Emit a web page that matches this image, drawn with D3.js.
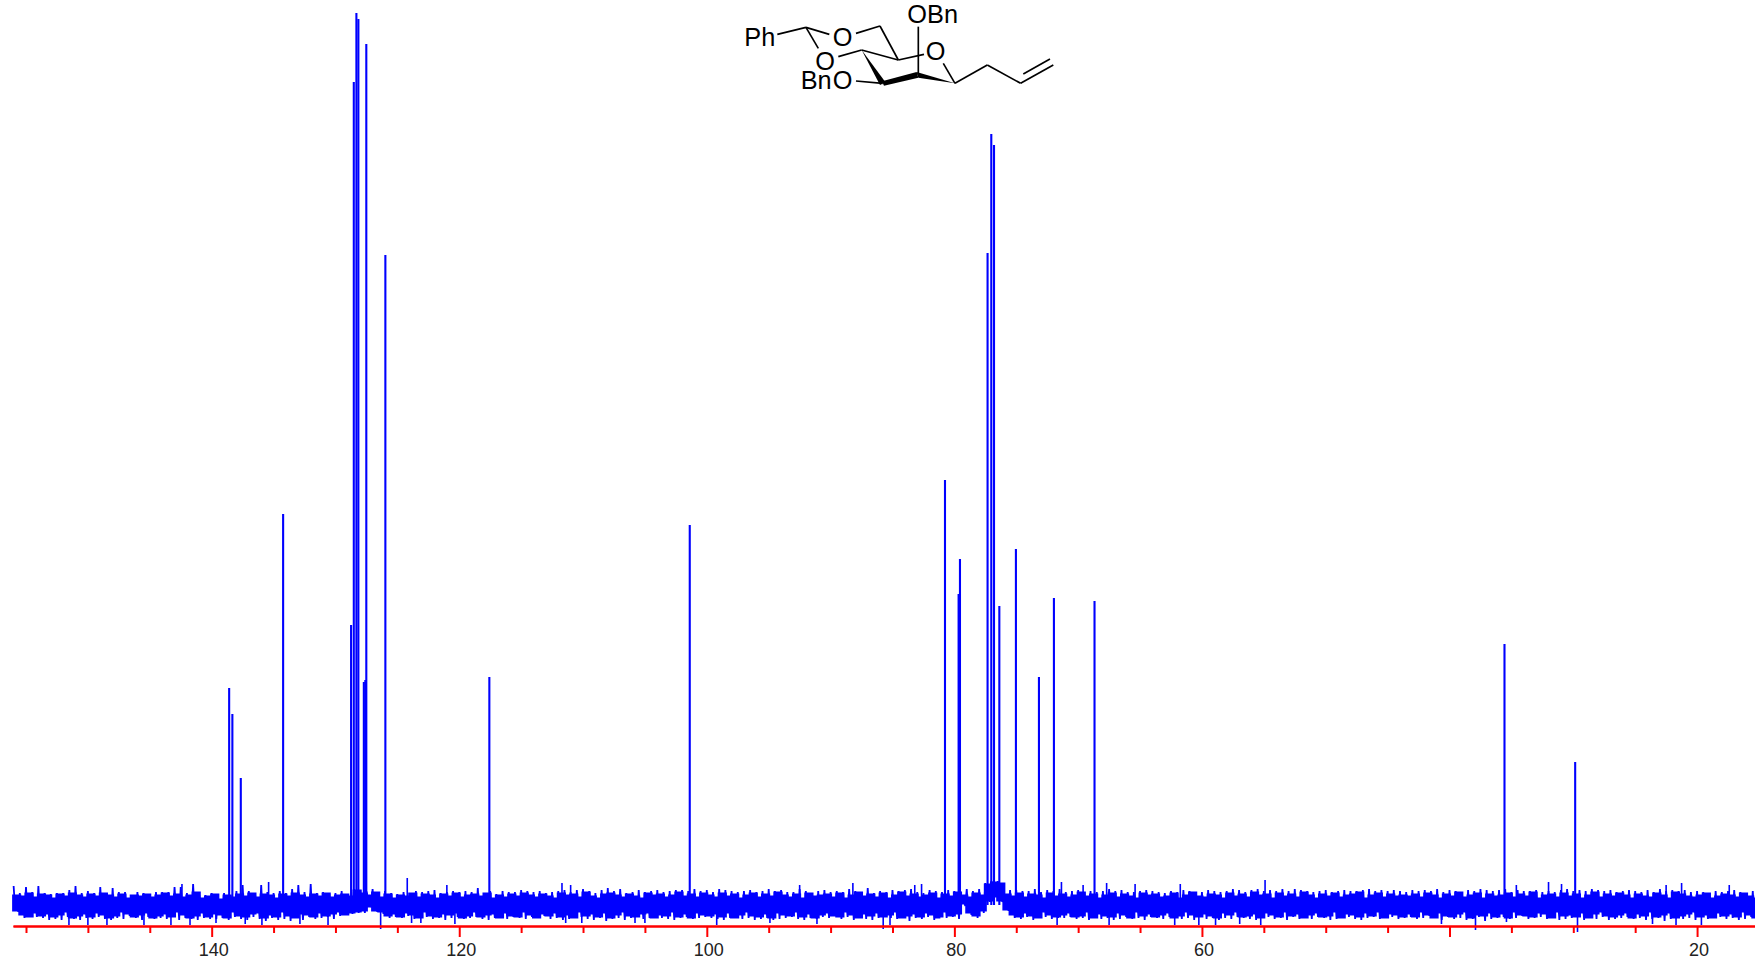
<!DOCTYPE html>
<html>
<head>
<meta charset="utf-8">
<script src="https://cdn.jsdelivr.net/npm/d3@7"></script>
<style>
body { margin: 0; background: white; }
svg { display: block; }
text { font-family: "Liberation Sans", Arial, sans-serif; }
</style>
</head>
<body>
<div id="chart"></div>
<script>
const width = 1755, height = 961;

// 13C peaks: shift in ppm, height above the baseline
const peakPpm = [138.62, 138.36, 137.68, 134.26, 128.77, 128.55, 128.34, 128.18, 127.74, 127.62, 127.54, 126.0, 117.6, 101.41, 80.79, 79.69, 79.58, 77.35, 77.05, 76.83, 76.4, 75.06, 73.2, 71.99, 68.71, 35.59, 29.88];
const peakHeight = [217, 191, 127, 391, 280, 823, 892, 886, 223, 225, 861, 650, 228, 380, 425, 311, 346, 652, 771, 760, 299, 356, 228, 307, 304, 261, 143];

// noise band, one reading every 0.5 ppm from 156 ppm down
const noiseStartPpm = 156, noiseStepPpm = 0.5;
const noiseHigh = [
    19,12,18,13,19,12,11,12,12,15,19,12,14,12,18,12,17,13,13,10,13,12,10,13,13,13,18,18,12,21,10,10,12,8,12,10,14,20,14,12,20,13,12,14,12,16,20,13,21,12,13,11,12,14,11,16,
    15,14,16,13,14,12,11,13,12,14,13,14,15,12,13,14,13,14,13,17,12,14,11,14,13,13,15,14,13,14,12,13,14,15,13,15,16,14,12,15,17,14,16,12,13,15,13,14,15,13,14,15,15,14,16,14,
    15,13,16,15,14,13,14,15,13,14,16,14,15,13,13,16,14,12,14,15,13,14,13,16,14,13,17,12,14,13,15,14,15,16,13,12,15,14,13,15,14,13,16,14,16,22,24,24,14,15,15,14,14,16,13,15,14,
    16,13,14,15,13,14,13,14,16,14,15,13,13,14,15,14,13,12,14,13,15,14,13,13,15,14,13,14,16,15,13,15,16,14,15,14,16,14,16,15,14,13,14,15,13,14,15,14,14,15,16,14,15,14,15,14,
    13,15,14,15,14,16,13,15,14,13,15,14,16,15,14,15,16,13,15,14,14,15,13,14,13,15,16,14,15,14,16,15,14,15,13,14,15,14,13,15,13,16,14,15,14,15,13,14,13,12,14,13,14,15,13,12,14,13
];
const noiseLow = [
    -7,-13,-11,-12,-13,-15,-14,-15,-12,-14,-15,-13,-14,-12,-14,-15,-13,-14,-11,-13,-15,-12,-14,-13,-14,-12,-15,-13,-14,-15,-13,-14,-14,-13,-15,-12,-14,-15,-12,-14,-16,-13,-15,-14,-16,-13,-15,-12,-14,-13,-12,-14,-11,-10,-9,-8,
    -8,-2,-7,-9,-13,-12,-13,-11,-14,-13,-12,-14,-13,-15,-13,-12,-14,-13,-12,-14,-15,-13,-12,-14,-12,-13,-14,-12,-13,-11,-14,-13,-15,-14,-13,-12,-14,-15,-13,-16,-14,-13,-15,-13,-12,-14,-13,-12,-13,-14,-15,-13,-12,-14,-13,-12,
    -13,-14,-15,-13,-12,-14,-13,-15,-14,-13,-15,-14,-13,-12,-14,-15,-13,-14,-12,-13,-11,-14,-12,-15,-13,-14,-15,-13,-12,-13,-14,-12,-16,-13,-14,-12,-15,-11,-13,-12,-14,-1,-10,-13,-8,3,8,3,-6,-13,-14,-12,-15,-13,-12,-14,-13,
    -13,-12,-14,-13,-15,-12,-14,-13,-15,-14,-12,-14,-13,-15,-12,-13,-14,-12,-13,-14,-13,-15,-12,-14,-13,-15,-13,-14,-12,-13,-14,-15,-13,-12,-14,-13,-15,-12,-14,-13,-14,-12,-13,-15,-14,-13,-12,-14,-15,-13,-12,-14,-13,-12,-14,-13,
    -12,-14,-13,-11,-13,-15,-12,-14,-13,-15,-14,-12,-16,-14,-13,-12,-14,-13,-11,-14,-13,-12,-14,-13,-15,-14,-13,-12,-15,-13,-14,-12,-15,-14,-13,-12,-14,-13,-15,-14,-13,-16,-14,-12,-14,-13,-15,-12,-14,-13,-12,-14,-13,-15,-14,-12,-13,-14
];
// the readings in between, where the trace comes back inside the band
const noiseHighMid = [
    9,8,11,7,10,9,6,10,8,11,9,7,10,8,11,9,7,10,6,9,8,10,7,9,11,8,10,7,9,12,6,8,10,5,9,7,10,8,11,7,10,9,6,10,8,11,9,7,10,8,11,7,9,10,8,14,
    11,9,12,7,10,6,9,8,11,7,10,9,6,10,8,11,7,9,10,8,11,6,9,7,10,8,11,9,7,10,8,6,11,9,10,7,12,8,6,10,11,9,7,10,8,6,11,9,10,7,9,12,8,10,7,11,
    9,7,11,8,10,6,9,11,7,10,8,12,9,7,10,6,11,8,9,10,7,11,6,9,12,8,10,7,11,6,9,12,8,10,7,9,11,6,10,8,12,9,7,11,9,20,22,21,10,8,11,7,10,9,6,11,8,
    10,7,9,12,8,10,6,9,11,7,10,8,6,11,9,10,7,8,11,6,9,12,8,7,10,9,6,11,8,10,7,12,9,10,6,11,8,10,7,12,9,6,10,8,11,7,9,10,12,6,9,11,7,10,8,9,
    8,10,7,11,9,6,10,8,12,7,9,11,6,10,8,9,11,7,10,8,12,6,9,10,7,11,8,10,6,9,12,7,10,8,11,9,6,10,8,7,11,9,6,12,10,8,7,9,11,6,8,10,9,7,11,8,6,10
];
const noiseLowMid = [
    -5,-9,-11,-7,-10,-8,-11,-9,-6,-12,-10,-8,-11,-7,-9,-12,-10,-6,-8,-11,-9,-7,-12,-10,-8,-11,-6,-9,-12,-10,-7,-11,-8,-9,-12,-6,-10,-11,-8,-7,-12,-9,-11,-6,-10,-12,-8,-9,-11,-7,-10,-8,-6,-9,-7,-6,
    -5,-1,-5,-6,-10,-8,-11,-7,-9,-12,-6,-10,-11,-8,-9,-7,-12,-10,-6,-11,-9,-8,-12,-7,-10,-11,-6,-9,-12,-8,-10,-7,-11,-9,-12,-6,-10,-8,-11,-7,-12,-9,-6,-10,-11,-8,-7,-12,-9,-10,-6,-11,-8,-12,-7,-9,
    -10,-8,-11,-7,-12,-9,-6,-10,-11,-8,-12,-7,-9,-10,-6,-11,-8,-12,-9,-7,-10,-11,-6,-9,-12,-8,-10,-7,-11,-9,-6,-12,-10,-8,-11,-7,-9,-12,-6,-10,-8,2,-7,-10,-5,5,9,5,-4,-9,-11,-7,-10,-12,-6,-9,-11,
    -9,-7,-11,-10,-6,-12,-8,-10,-11,-7,-9,-12,-6,-10,-8,-11,-9,-7,-12,-10,-6,-9,-11,-8,-10,-12,-7,-9,-6,-11,-10,-8,-12,-7,-9,-11,-6,-10,-8,-12,-9,-7,-11,-10,-6,-12,-8,-9,-11,-7,-10,-6,-12,-8,-9,-11,
    -8,-11,-6,-9,-12,-7,-10,-11,-8,-6,-12,-9,-10,-7,-11,-8,-12,-6,-9,-10,-11,-7,-8,-12,-6,-10,-9,-11,-7,-12,-8,-6,-10,-11,-9,-7,-12,-8,-10,-6,-11,-9,-7,-12,-10,-8,-6,-11,-9,-12,-7,-10,-8,-11,-6,-9,-12,-8
];

// narrow noise spikes that stick out of the band
const spikeUpPpm = [142.4, 135.4, 124.2, 121, 111.7, 111, 92.5, 88.2, 83.2, 82.65, 71.35, 69.6, 67.7, 65.4, 61.75, 54.9, 34.6, 32, 30.95, 22.5, 21.25, 17.4];
const spikeUpValue = [21, 23, 27, 20, 22, 20, 20, 22, 20, 21, 23, 20, 22, 21, 21, 25, 20, 23, 21, 20, 22, 20];
const spikeDownPpm = [151.53, 150, 148.46, 145.47, 143.29, 141.75, 139.65, 137.29, 135.94, 132.87, 130.6, 126.35, 123.85, 123.1, 120.35, 111.4, 110.1, 105.8, 105, 99.2, 94.9, 91.1, 85.75, 85.2, 71.7, 67.5, 62.2, 60.25, 58.9, 56.95, 55.25, 40.65, 37.9, 35.4, 29.66, 23.6, 21.7, 19.65];
const spikeDownValue = [-20, -20, -20, -20, -20, -20, -18, -19, -20, -19, -20, -24, -18, -18, -19, -18, -18, -18, -18, -20, -18, -19, -24, -20, -20, -20, -20, -20, -20, -19, -20, -19, -25, -17, -27, -19, -20, -20];

const majorTicks = [140, 120, 100, 80, 60, 40, 20];
const minorTicks = [155, 150, 145, 135, 130, 125, 115, 110, 105, 95, 90, 85, 75, 70, 65, 55, 50, 45, 35, 30, 25];
const tickLabels = [140, 120, 100, 80, 60, 20];

const svg = d3.select("#chart")
    .append("svg")
    .attr("width", width)
    .attr("height", height);

const x = d3.scaleLinear()
    .domain([156.05, 15.32])
    .range([13, 1755]);

const y = d3.scaleLinear()
    .domain([0, 900])
    .range([905, 5]);

const blue = "#0000ff", red = "#ff0000";

// solid core of the noise band
const core = d3.area()
    .curve(d3.curveStepAfter)
    .x((d, i) => x(noiseStartPpm - i * noiseStepPpm / 2))
    .y0(d => y(d.low))
    .y1(d => y(d.high));

const coreData = [];
noiseHighMid.forEach((h, i) => {
    coreData.push({ high: h, low: noiseLowMid[i] });
    coreData.push({ high: Math.min(h, noiseHigh[i]), low: Math.max(noiseLowMid[i], noiseLow[i]) });
});

svg.append("path")
    .datum(coreData)
    .attr("fill", blue)
    .attr("stroke", blue)
    .attr("stroke-width", 3)
    .attr("d", core);

// noise trace: zigzag through the four readings of each 0.5 ppm slot
const noiseTrace = [];
noiseHigh.forEach((h, i) => {
    const p = noiseStartPpm - i * noiseStepPpm;
    noiseTrace.push({ ppm: p, value: h });
    noiseTrace.push({ ppm: p - noiseStepPpm / 4, value: noiseLowMid[i] });
    noiseTrace.push({ ppm: p - noiseStepPpm / 2, value: noiseHighMid[i] });
    noiseTrace.push({ ppm: p - 3 * noiseStepPpm / 4, value: noiseLow[i] });
});

const trace = d3.line()
    .defined(d => d.value !== undefined)
    .x(d => x(d.ppm))
    .y(d => y(d.value));

svg.append("path")
    .datum(noiseTrace)
    .attr("fill", "none")
    .attr("stroke", blue)
    .attr("stroke-width", 1.8)
    .attr("d", trace);

// spikes
const spikes = spikeUpPpm.map((p, i) => ({ ppm: p, value: spikeUpValue[i] }))
    .concat(spikeDownPpm.map((p, i) => ({ ppm: p, value: spikeDownValue[i] })));

svg.selectAll(".spike")
    .data(spikes)
    .enter().append("line")
    .attr("class", "spike")
    .attr("x1", d => x(d.ppm))
    .attr("x2", d => x(d.ppm))
    .attr("y1", y(0))
    .attr("y2", d => y(d.value))
    .attr("stroke", blue)
    .attr("stroke-width", 1.6);

// peaks
svg.selectAll(".peak")
    .data(peakPpm)
    .enter().append("line")
    .attr("class", "peak")
    .attr("x1", d => x(d) + 0.4)
    .attr("x2", d => x(d) + 0.4)
    .attr("y1", y(0))
    .attr("y2", (d, i) => y(peakHeight[i]))
    .attr("stroke", blue)
    .attr("stroke-width", 2.1);

// ppm axis, drawn over the spectrum
const axisY = 926;

const minorAxis = svg.append("g")
    .attr("transform", `translate(0,${axisY})`)
    .call(d3.axisBottom(x).tickValues(minorTicks).tickSize(7).tickSizeOuter(0).tickFormat(""));

const majorAxis = svg.append("g")
    .attr("transform", `translate(0,${axisY})`)
    .call(d3.axisBottom(x).tickValues(majorTicks).tickSize(11).tickSizeOuter(0)
        .tickFormat(d => tickLabels.includes(d) ? d : ""));

[minorAxis, majorAxis].forEach(g => {
    g.select(".domain").attr("stroke", red).attr("stroke-width", 2);
    g.selectAll(".tick line").attr("stroke", red).attr("stroke-width", 2);
});

majorAxis.selectAll(".tick text")
    .attr("x", 1.5)
    .attr("y", 17)
    .attr("fill", "#222")
    .style("font-size", "18px");

// structure drawn at the top of the page
const mol = svg.append("g").attr("transform", "translate(700,0) scale(0.3333)");

const bonds = [
    [232, 103, 318, 82], [318, 82, 388, 103], [318, 82, 355, 145],
    [468, 100, 540, 78], [540, 78, 595, 180], [595, 180, 672, 163],
    [595, 180, 485, 150], [485, 150, 415, 170], [468, 243, 548, 250],
    [655, 80, 655, 225], [765, 250, 730, 190], [765, 250, 862, 195],
    [862, 195, 962, 250], [962, 250, 1060, 195], [970, 222, 1050, 177]
];

mol.selectAll(".bond")
    .data(bonds)
    .enter().append("line")
    .attr("class", "bond")
    .attr("x1", d => d[0])
    .attr("y1", d => d[1])
    .attr("x2", d => d[2])
    .attr("y2", d => d[3])
    .attr("stroke", "#000")
    .attr("stroke-width", 5);

// wedge bonds
mol.append("path").attr("d", "M485,150L540,255L556,246Z").attr("fill", "#000");
mol.append("path").attr("d", "M546,244L650,216L655,233L552,257Z").attr("fill", "#000");
mol.append("path").attr("d", "M650,216L765,250L655,233Z").attr("fill", "#000");

const atoms = [
    { label: "OBn", x: 622, y: 68, anchor: "start" },
    { label: "Ph", x: 133, y: 137, anchor: "start" },
    { label: "O", x: 428, y: 137, anchor: "middle" },
    { label: "O", x: 375, y: 210, anchor: "middle" },
    { label: "Bn", x: 302, y: 268, anchor: "start" },
    { label: "O", x: 428, y: 268, anchor: "middle" },
    { label: "O", x: 707, y: 181, anchor: "middle" }
];

mol.selectAll(".atom")
    .data(atoms)
    .enter().append("text")
    .attr("class", "atom")
    .attr("x", d => d.x)
    .attr("y", d => d.y)
    .attr("text-anchor", d => d.anchor)
    .attr("fill", "#000")
    .style("font-size", "76px")
    .text(d => d.label);
</script>
</body>
</html>
